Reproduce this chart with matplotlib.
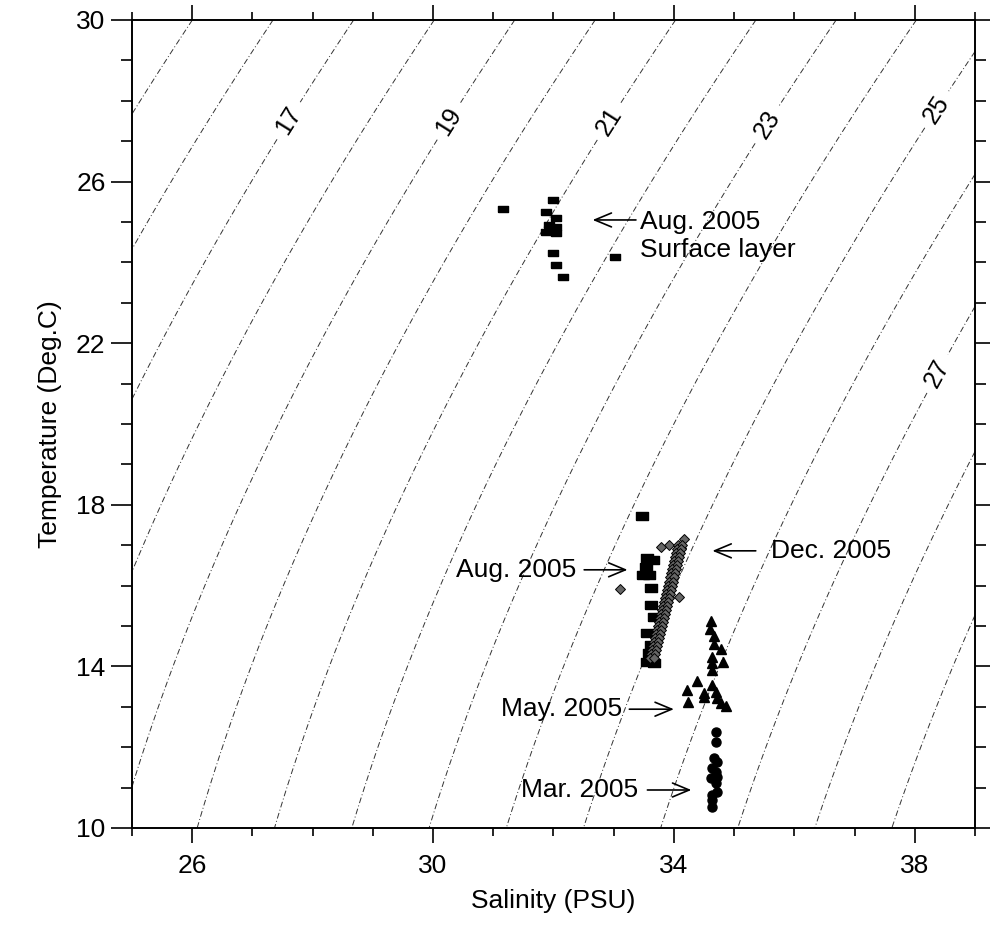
#!/usr/bin/env python3
"""
T-S diagram of the 2005 cruises: temperature vs salinity with sigma-t
isopycnals (UNESCO EOS-80 at p = 0) in the background.
"""

import numpy as np
import matplotlib
matplotlib.use("Agg")
import matplotlib.pyplot as plt
from matplotlib.path import Path
from matplotlib.ticker import MultipleLocator

# ---- observations (salinity PSU, temperature deg C) ----
aug_surf_s = [31.17, 31.99, 31.88, 32.05, 31.93, 32.04, 31.88, 32.04, 32.00, 32.04, 32.16, 33.03]
aug_surf_t = [25.32, 25.54, 25.24, 25.09, 24.93, 24.88, 24.76, 24.73, 24.24, 23.94, 23.63, 24.14]

aug_deep_s = [33.47, 33.56, 33.65, 33.53, 33.48, 33.59, 33.62, 33.62, 33.67, 33.56,
              33.62, 33.59, 33.56, 33.67]
aug_deep_t = [17.72, 16.68, 16.63, 16.47, 16.26, 16.26, 15.93, 15.52, 15.23, 14.82,
              14.53, 14.32, 14.12, 14.08]

dec_s = [34.17, 33.92, 33.78, 33.10, 34.09, 34.11,
         34.07, 34.13, 34.05, 34.12, 34.03, 34.10, 34.02, 34.09, 34.00, 34.07,
         33.98, 34.05, 33.97, 34.04, 33.95, 34.02, 33.93, 34.00, 33.92, 33.99,
         33.90, 33.97, 33.88, 33.96, 33.87, 33.94, 33.85, 33.92, 33.84, 33.90,
         33.82, 33.89, 33.80, 33.87, 33.79, 33.86, 33.77, 33.84, 33.75, 33.82,
         33.74, 33.81, 33.72, 33.79, 33.70, 33.77, 33.69, 33.75, 33.67, 33.74,
         33.65, 33.72, 33.64, 33.70, 33.62, 33.69, 33.60, 33.67]
dec_t = [17.15, 17.00, 16.96, 15.91, 15.72, 16.92,
         17.00, 17.00, 16.90, 16.90, 16.80, 16.80, 16.70, 16.70, 16.60, 16.60,
         16.50, 16.50, 16.40, 16.40, 16.30, 16.30, 16.20, 16.20, 16.10, 16.10,
         16.00, 16.00, 15.90, 15.90, 15.80, 15.80, 15.70, 15.70, 15.60, 15.60,
         15.50, 15.50, 15.40, 15.40, 15.30, 15.30, 15.20, 15.20, 15.10, 15.10,
         15.00, 15.00, 14.90, 14.90, 14.80, 14.80, 14.70, 14.70, 14.60, 14.60,
         14.50, 14.50, 14.40, 14.40, 14.30, 14.30, 14.20, 14.20]

may_s = [34.61, 34.60, 34.66, 34.66, 34.79, 34.64, 34.82, 34.64, 34.64, 34.38,
         34.64, 34.21, 34.50, 34.70, 34.50, 34.72, 34.24, 34.78, 34.86]
may_t = [15.13, 14.92, 14.74, 14.55, 14.42, 14.22, 14.12, 14.08, 13.91, 13.65,
         13.54, 13.42, 13.33, 13.37, 13.23, 13.21, 13.11, 13.09, 13.02]

mar_s = [34.70, 34.70, 34.67, 34.72, 34.64, 34.70, 34.61, 34.72, 34.70, 34.64,
         34.72, 34.64, 34.64]
mar_t = [12.38, 12.12, 11.72, 11.64, 11.48, 11.39, 11.23, 11.27, 11.11, 10.82,
         10.90, 10.69, 10.53]

# ---- isopycnals ----
SIGMA_LEVELS = list(range(15, 30))
LABEL_LEVELS = [17, 19, 21, 23, 25, 27]
LABEL_POS = [(27.79, 27.33), (30.44, 27.33), (33.09, 27.33),
             (35.55, 27.40), (38.35, 27.80), (38.43, 21.20)]

# ---- annotations: text, text anchor (S, T), alignment, arrow tail, arrow head ----
NOTES = [
    ("Aug. 2005\nSurface layer", (33.44, 24.66), "left", (33.37, 25.05), (32.65, 25.05)),
    ("Aug. 2005", (32.38, 16.39), "right", (32.51, 16.39), (33.23, 16.39)),
    ("Dec. 2005", (35.61, 16.86), "left", (35.36, 16.86), (34.64, 16.86)),
    ("May. 2005", (33.14, 12.94), "right", (33.26, 12.94), (34.00, 12.94)),
    ("Mar. 2005", (33.41, 10.94), "right", (33.56, 10.94), (34.29, 10.94)),
]


def sigma_t(S, T):
    """UNESCO 1983 (EOS-80) density anomaly at zero pressure."""
    rho_w = (999.842594 + 6.793952e-2 * T - 9.095290e-3 * T**2
             + 1.001685e-4 * T**3 - 1.120083e-6 * T**4 + 6.536332e-9 * T**5)
    A = (8.24493e-1 - 4.0899e-3 * T + 7.6438e-5 * T**2
         - 8.2467e-7 * T**3 + 5.3875e-9 * T**4)
    B = -5.72466e-3 + 1.0227e-4 * T - 1.6546e-6 * T**2
    C = 4.8314e-4
    return rho_w + A * S + B * S**1.5 + C * S**2 - 1000.0


plt.rcParams.update({
    "font.family": "Liberation Sans",
    "font.size": 19,
    "axes.linewidth": 1.4,
})

fig = plt.figure(figsize=(9.9, 9.25), dpi=100)
ax = fig.add_axes([0.1333, 0.1049, 0.8515, 0.8735])

ss, tt = np.meshgrid(np.linspace(25, 39, 300), np.linspace(10, 30, 300))
sig = sigma_t(ss, tt)
dashdot = (0, (6, 2.5, 1, 2.5))

# unlabelled and labelled isopycnals drawn separately so only the latter get gaps
plain = [lv for lv in SIGMA_LEVELS if lv not in LABEL_LEVELS]
cs_plain = ax.contour(ss, tt, sig, levels=plain, colors="0.2",
                      linewidths=0.7, linestyles=[dashdot])
cs_lab = ax.contour(ss, tt, sig, levels=LABEL_LEVELS, colors="0.2",
                    linewidths=0.7, linestyles=[dashdot])
ax.clabel(cs_lab, manual=LABEL_POS, fmt="%d", fontsize=18, colors="black",
          inline=True, inline_spacing=8)

rect = Path([(-1, -0.65), (1, -0.65), (1, 0.65), (-1, 0.65), (-1, -0.65)])

ax.plot(aug_surf_s, aug_surf_t, ls="none", marker=rect, ms=7.5, color="black")
ax.plot(aug_deep_s, aug_deep_t, ls="none", marker=rect, ms=8, color="black")
ax.plot(dec_s, dec_t, ls="none", marker="D", ms=5, mfc="0.4", mec="black", mew=0.7)
ax.plot(may_s, may_t, ls="none", marker="^", ms=7, color="black")
ax.plot(mar_s, mar_t, ls="none", marker="o", ms=6.5, color="black")

for text, (tx, ty), ha, tail, head in NOTES:
    ax.text(tx, ty, text, ha=ha, va="center", fontsize=19)
    ax.annotate("", xy=head, xytext=tail,
                arrowprops=dict(arrowstyle="->,head_length=0.6,head_width=0.25",
                                lw=1.2, color="black", shrinkA=0, shrinkB=0,
                                mutation_scale=20))

ax.set_xlim(25, 39)
ax.set_ylim(10, 30)
ax.set_xticks([26, 30, 34, 38])
ax.set_yticks([10, 14, 18, 22, 26, 30])
ax.xaxis.set_minor_locator(MultipleLocator(1))
ax.yaxis.set_minor_locator(MultipleLocator(1))
ax.tick_params(axis="both", which="both", direction="out", width=1.2,
               top=True, right=True, labelsize=19)
ax.tick_params(axis="x", which="major", length=11, pad=8)
ax.tick_params(axis="x", which="minor", length=6)
ax.tick_params(axis="y", which="major", length=15, pad=4)
ax.tick_params(axis="y", which="minor", length=8)

ax.set_xlabel("Salinity (PSU)", fontsize=19, labelpad=8)
ax.set_ylabel("Temperature (Deg.C)", fontsize=19, labelpad=10)

fig.savefig("out.png", dpi=100)
